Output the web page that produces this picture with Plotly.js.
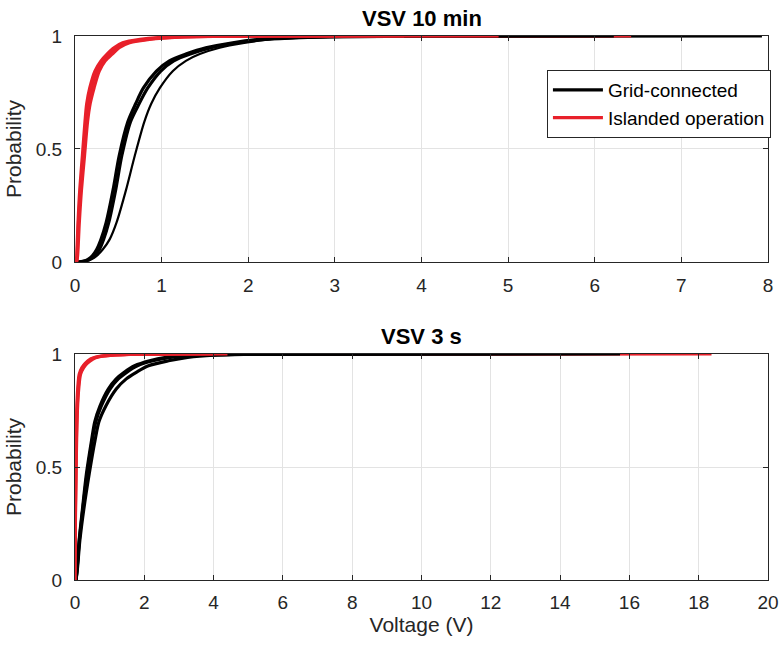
<!DOCTYPE html>
<html>
<head>
<meta charset="utf-8">
<script src="https://cdn.plot.ly/plotly-3.0.1.min.js"></script>
<style>
  html, body { margin: 0; padding: 0; background: #ffffff; }
  #chart { width: 784px; height: 652px; }
</style>
</head>
<body>
<div id="chart"></div>
<script>
// Empirical CDFs of voltage short-term variation (VSV)

// ---- VSV 10 min : grid-connected ----
const gc10A_volt = [0.03, 0.10, 0.15, 0.20, 0.25, 0.30, 0.36, 0.44, 0.51, 0.61, 0.70, 0.79, 0.94, 1.09, 1.28, 1.51, 1.82, 2.13, 2.50, 3.00, 4.00, 5.00, 6.22];
const gc10B_volt = [0.04, 0.12, 0.17, 0.22, 0.28, 0.33, 0.39, 0.47, 0.54, 0.64, 0.74, 0.84, 0.99, 1.14, 1.33, 1.57, 1.88, 2.20, 2.60, 3.10, 4.00, 5.50, 7.93];
const gc10C_volt = [0.05, 0.13, 0.19, 0.25, 0.32, 0.40, 0.48, 0.59, 0.69, 0.80, 0.88, 0.98, 1.13, 1.28, 1.44, 1.67, 1.97, 2.24, 2.60, 3.10, 3.80, 4.60, 5.60];
const gc10_prob  = [0, 0.004, 0.012, 0.027, 0.055, 0.10, 0.175, 0.32, 0.47, 0.62, 0.70, 0.77, 0.845, 0.89, 0.92, 0.948, 0.97, 0.985, 0.993, 0.997, 0.999, 0.9997, 1];

// ---- VSV 10 min : islanded operation ----
const isl10A_volt = [0.02, 0.025, 0.04, 0.065, 0.10, 0.13, 0.15, 0.19, 0.25, 0.33, 0.40, 0.48, 0.59, 0.82, 1.17, 1.60, 2.50, 6.42];
const isl10B_volt = [0.015, 0.02, 0.035, 0.055, 0.085, 0.115, 0.135, 0.17, 0.23, 0.30, 0.37, 0.45, 0.55, 0.75, 1.05, 1.50, 2.40, 4.89];
const isl10C_volt = [0.02, 0.03, 0.05, 0.075, 0.11, 0.145, 0.175, 0.22, 0.28, 0.35, 0.43, 0.51, 0.63, 0.86, 1.20, 1.70, 2.60, 3.80];
const isl10_prob  = [0, 0.027, 0.175, 0.32, 0.47, 0.62, 0.70, 0.77, 0.845, 0.89, 0.92, 0.948, 0.97, 0.985, 0.995, 0.998, 0.9995, 1];

// ---- VSV 3 s : grid-connected ----
const gc3A_volt = [0.03, 0.06, 0.12, 0.22, 0.33, 0.48, 0.57, 0.72, 0.96, 1.19, 1.43, 1.72, 2.15, 2.63, 3.39, 4.50, 6.00, 15.73];
const gc3B_volt = [0.03, 0.062, 0.125, 0.23, 0.35, 0.50, 0.60, 0.76, 1.01, 1.25, 1.50, 1.80, 2.25, 2.75, 3.50, 4.60, 6.20, 10.0];
const gc3C_volt = [0.03, 0.07, 0.14, 0.26, 0.41, 0.58, 0.69, 0.89, 1.19, 1.48, 1.78, 2.12, 2.70, 3.25, 4.00, 5.00, 7.00, 12.0];
const gc3_prob  = [0, 0.05, 0.175, 0.32, 0.47, 0.62, 0.70, 0.77, 0.845, 0.89, 0.92, 0.948, 0.97, 0.985, 0.995, 0.998, 0.999, 1];

// ---- VSV 3 s : islanded operation ----
const isl3A_volt = [0, 0.005, 0.01, 0.02, 0.03, 0.05, 0.08, 0.12, 0.20, 0.30, 0.45, 0.60, 1.00, 1.50, 3.00, 18.37];
const isl3B_volt = [0, 0.008, 0.015, 0.03, 0.045, 0.07, 0.11, 0.16, 0.25, 0.36, 0.52, 0.68, 1.10, 1.60, 2.60, 4.40];
const isl3C_volt = [0, 0.006, 0.012, 0.025, 0.037, 0.06, 0.095, 0.14, 0.22, 0.33, 0.48, 0.64, 1.05, 1.55, 2.80, 4.00];
const isl3_prob  = [0, 0.2, 0.3, 0.47, 0.6, 0.75, 0.85, 0.91, 0.94, 0.96, 0.978, 0.987, 0.995, 0.998, 0.9995, 1];

// ---- axes ----
const xTicks10 = [0, 1, 2, 3, 4, 5, 6, 7, 8];
const xTicks3  = [0, 2, 4, 6, 8, 10, 12, 14, 16, 18, 20];
const yTicks   = [0, 0.5, 1];
const yTickText = ['0', '0.5', '1'];
const seriesNames = ['Grid-connected', 'Islanded operation'];
const panelTitles = ['VSV 10 min', 'VSV 3 s'];

const BLACK = '#000000';
const RED = '#e8202a';
const FONT = 'Liberation Sans, Arial, Helvetica, sans-serif';

function curve(x, y, color, width, axes, legendIdx) {
  return {
    type: 'scatter', mode: 'lines', x: x, y: y,
    xaxis: axes[0], yaxis: axes[1],
    line: { color: color, width: width, shape: 'spline', smoothing: 0.8 },
    name: legendIdx != null ? seriesNames[legendIdx] : '',
    showlegend: legendIdx != null,
    hoverinfo: 'x+y'
  };
}

const upperAxes = ['x', 'y'], lowerAxes = ['x2', 'y2'];
// drawing order decides which colour sits on top along the p = 1 plateau
const traces = [
  curve(gc10B_volt, gc10_prob, BLACK, 3.2, upperAxes, 0),
  curve(gc10C_volt, gc10_prob, BLACK, 2.2, upperAxes),
  curve(isl10A_volt, isl10_prob, RED, 3.2, upperAxes, 1),
  curve(gc10A_volt, gc10_prob, BLACK, 3.2, upperAxes),
  curve(isl10B_volt, isl10_prob, RED, 3.2, upperAxes),
  curve(isl10C_volt, isl10_prob, RED, 3.2, upperAxes),

  curve(isl3A_volt, isl3_prob, RED, 3.2, lowerAxes),
  curve(gc3A_volt, gc3_prob, BLACK, 3.2, lowerAxes),
  curve(gc3B_volt, gc3_prob, BLACK, 3.2, lowerAxes),
  curve(gc3C_volt, gc3_prob, BLACK, 3.2, lowerAxes),
  curve(isl3B_volt, isl3_prob, RED, 3.2, lowerAxes),
  curve(isl3C_volt, isl3_prob, RED, 3.2, lowerAxes)
];

const axisCommon = {
  showline: true, linecolor: '#262626', linewidth: 1, mirror: 'ticks',
  ticks: 'inside', ticklen: 5, tickcolor: '#262626', tickwidth: 1,
  showgrid: true, gridcolor: '#e3e3e3', gridwidth: 1, zeroline: false,
  tickfont: { family: FONT, size: 19, color: '#262626' }
};
const axisTitleFont = { family: FONT, size: 21, color: '#262626' };

const layout = {
  width: 784, height: 652,
  margin: { l: 75, r: 16, t: 36, b: 72 },
  paper_bgcolor: '#ffffff', plot_bgcolor: '#ffffff',
  font: { family: FONT, color: '#262626' },
  showlegend: true,
  legend: {
    x: 0.681, y: 0.9375, xanchor: 'left', yanchor: 'top',
    bgcolor: '#ffffff', bordercolor: '#262626', borderwidth: 1,
    font: { family: FONT, size: 19, color: '#000000' },
    itemwidth: 50, tracegroupgap: 0
  },
  xaxis: Object.assign({}, axisCommon, {
    domain: [0, 1], anchor: 'y', range: [0, 8],
    tickvals: xTicks10, ticktext: xTicks10.map(String),
    ticklabelstandoff: 6
  }),
  yaxis: Object.assign({}, axisCommon, {
    domain: [0.5846, 1], anchor: 'x', range: [0, 1],
    tickvals: yTicks, ticktext: yTickText,
    ticklabelstandoff: 8,
    title: { text: 'Probability', font: axisTitleFont, standoff: 8 }
  }),
  xaxis2: Object.assign({}, axisCommon, {
    domain: [0, 1], anchor: 'y2', range: [0, 20],
    tickvals: xTicks3, ticktext: xTicks3.map(String),
    ticklabelstandoff: 5,
    title: { text: 'Voltage (V)', font: axisTitleFont, standoff: 0 }
  }),
  yaxis2: Object.assign({}, axisCommon, {
    domain: [0, 0.4154], anchor: 'x2', range: [0, 1],
    tickvals: yTicks, ticktext: yTickText,
    ticklabelstandoff: 8,
    title: { text: 'Probability', font: axisTitleFont, standoff: 8 }
  }),
  annotations: [
    { text: '<b>' + panelTitles[0] + '</b>', xref: 'paper', yref: 'paper', x: 0.5, y: 1.032,
      xanchor: 'center', yanchor: 'middle', showarrow: false,
      font: { family: FONT, size: 22, color: '#000000' } },
    { text: '<b>' + panelTitles[1] + '</b>', xref: 'paper', yref: 'paper', x: 0.5, y: 0.4485,
      xanchor: 'center', yanchor: 'middle', showarrow: false,
      font: { family: FONT, size: 22, color: '#000000' } }
  ]
};

Plotly.newPlot('chart', traces, layout, { displayModeBar: false, staticPlot: true });
</script>
</body>
</html>
